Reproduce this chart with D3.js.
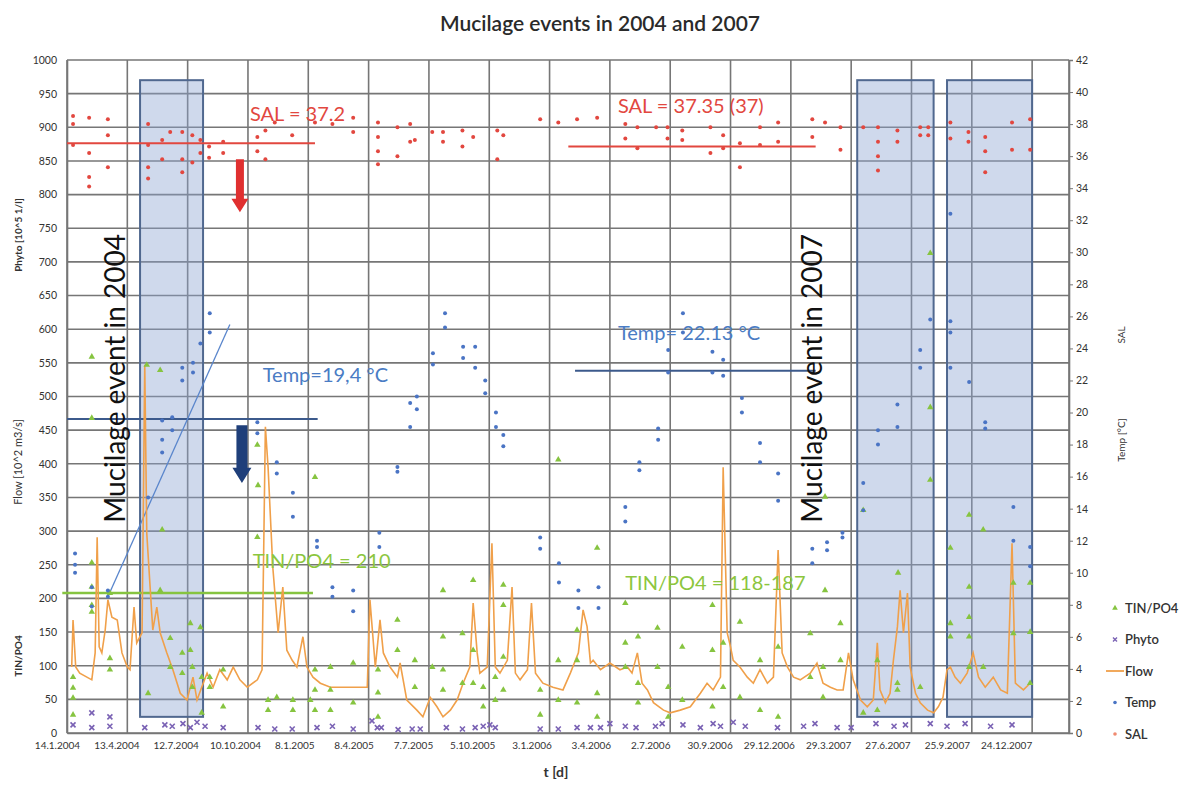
<!DOCTYPE html>
<html>
<head>
<meta charset="utf-8">
<script src="https://cdn.jsdelivr.net/npm/d3@7"></script>
<style>
  body { margin: 0; background: #fff; }
  text { font-family: Lato, "Open Sans", sans-serif; }
</style>
</head>
<body>
<svg id="chart" width="1195" height="799"></svg>
<script>

// ---- data (t = days since 14.1.2004) ----

var startDate = Date.UTC(2004, 0, 14);
var dayMax = 1495;
var xTickDays = d3.range(0, 1441, 90);
var leftTicks = d3.range(0, 1001, 50);
var rightTicks = d3.range(0, 43, 2);

var seriesNames = ["TIN/PO4", "Phyto", "Flow", "Temp", "SAL"];

// Flow [10^2 m3/s], left axis
var flow = [[7,98],[9,168],[13,98],[19,89],[37,79],[42,119],[45,291],[48,128],[52,119],[57,153],[61,198],[67,172],[75,168],[82,119],[90,98],[94,94],[100,187],[104,134],[112,149],[116,547],[119,297],[124,217],[128,153],[134,187],[139,149],[149,119],[158,94],[169,59],[179,49],[188,83],[194,49],[201,68],[209,89],[218,68],[228,94],[239,79],[248,98],[258,79],[269,68],[284,79],[291,94],[296,455],[300,395],[307,247],[315,149],[322,217],[328,123],[336,108],[343,98],[352,143],[358,98],[367,83],[378,74],[393,68],[412,68],[433,68],[448,68],[452,198],[460,98],[467,168],[472,119],[482,98],[493,83],[497,104],[507,49],[522,34],[531,24],[542,53],[552,39],[561,24],[572,34],[582,49],[591,74],[601,98],[606,193],[612,119],[616,89],[627,98],[634,282],[639,98],[646,89],[657,108],[664,217],[669,89],[676,79],[687,94],[693,193],[699,89],[710,74],[725,68],[740,64],[751,89],[763,119],[770,183],[776,158],[781,104],[785,108],[796,94],[810,104],[825,94],[836,98],[843,89],[851,119],[858,74],[866,64],[875,45],[890,34],[900,30],[915,34],[930,39],[945,59],[955,74],[964,64],[975,83],[979,395],[985,149],[990,128],[994,108],[1004,98],[1015,83],[1024,74],[1034,94],[1045,74],[1054,83],[1061,272],[1067,119],[1075,98],[1084,83],[1094,79],[1109,89],[1119,104],[1128,74],[1139,68],[1149,64],[1158,64],[1166,119],[1173,79],[1184,49],[1194,39],[1203,49],[1209,134],[1213,64],[1221,45],[1228,59],[1233,108],[1239,158],[1243,212],[1248,149],[1254,208],[1258,98],[1266,59],[1273,45],[1284,34],[1293,30],[1300,39],[1307,53],[1313,94],[1318,98],[1325,83],[1333,74],[1343,89],[1352,119],[1360,83],[1370,68],[1382,83],[1393,64],[1403,59],[1410,282],[1415,74],[1427,64],[1437,74]];

// TIN/PO4, left axis
var tinPo4 = [[9,83],[9,67],[9,52],[9,27],[37,559],[37,468],[37,253],[37,217],[37,190],[37,180],[64,208],[64,111],[64,94],[119,547],[121,59],[139,539],[139,212],[142,302],[154,141],[154,98],[172,119],[172,89],[184,163],[184,123],[187,98],[187,68],[199,157],[201,83],[201,30],[213,83],[213,68],[233,94],[233,39],[284,428],[284,291],[285,368],[300,49],[300,34],[313,53],[337,49],[337,34],[363,49],[370,380],[370,94],[370,64],[370,34],[393,98],[393,64],[393,34],[427,104],[427,45],[464,94],[464,60],[464,24],[493,168],[493,123],[519,108],[519,68],[545,98],[561,212],[561,143],[561,94],[561,64],[590,148],[590,74],[606,227],[606,123],[606,74],[621,68],[621,39],[639,83],[639,49],[651,220],[651,190],[651,113],[651,64],[706,64],[706,27],[733,406],[733,108],[733,49],[761,153],[761,108],[761,45],[791,275],[791,59],[791,24],[833,193],[833,134],[833,98],[852,143],[852,74],[852,45],[881,156],[881,98],[897,68],[897,24],[918,128],[918,49],[963,190],[963,123],[963,39],[979,134],[979,68],[1004,165],[1004,53],[1034,108],[1034,34],[1061,128],[1061,24],[1109,148],[1109,83],[1128,98],[1128,53],[1131,351],[1131,212],[1154,163],[1154,108],[1188,331],[1188,30],[1209,108],[1209,34],[1239,74],[1239,64],[1240,238],[1273,68],[1288,713],[1288,484],[1288,376],[1318,275],[1318,163],[1318,143],[1346,324],[1346,217],[1346,172],[1346,143],[1346,98],[1367,302],[1367,98],[1412,223],[1412,148],[1437,223],[1437,150],[1437,74]];

// Phyto [10^5 1/l], left axis
var phyto = [[9,12],[37,30],[37,8],[64,24],[64,10],[116,8],[146,12],[157,10],[173,14],[184,8],[194,16],[206,10],[233,8],[285,8],[310,6],[336,6],[373,8],[396,10],[427,6],[455,18],[463,8],[469,8],[494,5],[515,6],[527,6],[566,8],[590,6],[609,8],[621,10],[631,12],[639,8],[706,6],[733,6],[761,8],[781,8],[796,8],[810,14],[833,10],[849,8],[878,10],[888,14],[919,12],[945,8],[964,14],[975,10],[994,16],[1012,10],[1060,8],[1099,10],[1116,14],[1149,8],[1170,8],[1207,14],[1234,10],[1251,12],[1288,14],[1313,10],[1340,14],[1378,10],[1410,12]];

// Temp [°C], right axis
var temp = [[12,11.2],[12,10.5],[12,10.0],[37,9.1],[37,7.9],[61,8.9],[61,8.5],[121,14.7],[142,19.5],[142,18.3],[142,17.5],[157,19.7],[157,18.9],[172,22.8],[172,22.0],[188,23.1],[188,22.5],[199,24.3],[213,26.2],[213,25.0],[284,19.4],[284,18.7],[313,16.9],[313,16.2],[337,15.0],[337,13.5],[373,12.0],[373,11.6],[396,9.1],[396,8.5],[427,8.9],[427,7.6],[466,12.5],[466,11.6],[493,16.6],[493,16.3],[512,20.6],[512,19.1],[522,21.0],[522,20.2],[546,23.7],[546,23.0],[564,26.2],[564,25.3],[591,24.1],[591,23.4],[609,24.1],[609,22.8],[624,22.0],[624,21.2],[640,20.0],[640,19.1],[651,18.6],[651,17.9],[706,12.2],[706,11.5],[734,10.6],[734,9.4],[763,8.9],[763,7.8],[793,9.1],[793,7.8],[833,14.1],[833,13.2],[854,16.9],[854,16.4],[882,19.0],[882,18.3],[897,23.9],[897,22.5],[919,26.2],[919,25.0],[963,23.8],[963,22.5],[979,23.3],[979,22.3],[1007,20.9],[1007,20.0],[1034,18.1],[1034,16.9],[1061,16.2],[1061,14.5],[1112,11.5],[1112,10.6],[1134,11.9],[1134,11.4],[1157,12.5],[1157,12.2],[1188,15.6],[1188,13.9],[1210,18.9],[1210,18.0],[1239,20.5],[1239,19.1],[1273,23.9],[1273,22.8],[1288,25.8],[1318,32.4],[1318,25.7],[1318,25.0],[1318,22.8],[1346,21.9],[1370,19.4],[1370,19.0],[1412,14.1],[1412,12.0],[1437,11.6],[1437,10.4]];

// SAL, right axis
var sal = [[9,38.5],[9,38.0],[9,36.7],[33,38.4],[33,36.2],[33,34.7],[33,34.1],[61,38.3],[61,37.3],[61,35.3],[121,38.0],[121,36.7],[121,35.3],[121,34.6],[142,37.0],[142,35.8],[154,37.5],[172,37.5],[172,35.8],[172,35.0],[187,37.3],[187,35.6],[199,37.0],[199,36.2],[212,36.6],[212,35.9],[233,36.9],[233,36.2],[284,37.2],[284,36.3],[296,37.6],[296,35.8],[310,38.1],[336,37.3],[370,38.1],[396,38.0],[427,38.4],[427,37.5],[464,38.1],[464,37.2],[464,36.3],[464,35.5],[493,37.8],[493,36.0],[512,38.0],[512,36.9],[519,37.0],[545,37.5],[561,37.5],[561,36.9],[590,37.6],[590,36.6],[606,37.2],[642,37.6],[642,35.8],[651,37.3],[706,38.3],[733,38.1],[761,38.3],[791,38.4],[833,38.0],[833,37.1],[851,37.8],[851,36.5],[879,37.8],[896,37.8],[896,37.1],[918,37.6],[918,37.0],[960,37.8],[960,36.2],[979,37.3],[979,36.5],[1004,36.8],[1004,35.3],[1034,37.8],[1034,36.7],[1061,38.1],[1061,36.9],[1112,38.3],[1112,37.2],[1131,38.1],[1154,37.8],[1154,36.4],[1188,37.8],[1210,37.8],[1210,36.9],[1210,36.0],[1210,35.1],[1239,37.6],[1239,36.9],[1273,37.8],[1273,37.3],[1285,37.8],[1285,37.3],[1318,38.1],[1318,37.1],[1345,37.5],[1345,36.9],[1370,37.2],[1370,36.3],[1370,35.0],[1410,38.1],[1410,36.4],[1437,38.3],[1437,36.4]];

// mucilage periods [from day, to day], and box height on left axis
var eventPeriods = [[109, 203], [1179, 1293], [1313, 1440]];
var eventBox = [24, 970];

// reference levels drawn on the chart
var salRefs = [{from: 0, to: 370, level: 36.8, label: "SAL = 37.2", at: 273, labelLevel: 38.2},
               {from: 748, to: 1117, level: 36.6, label: "SAL = 37.35 (37)", at: 822, labelLevel: 38.7}];
var tempRefs = [{from: 0, to: 374, level: 19.6, label: "Temp=19,4 °C", at: 292, labelLevel: 21.9},
                {from: 758, to: 1117, level: 22.6, label: "Temp= 22.13 °C", at: 822, labelLevel: 24.5}];
var tinRefs = [{from: -7, to: 367, level: 208, label: "TIN/PO4 = 210", at: 277, labelLevel: 245},
               {from: null, to: null, level: null, label: "TIN/PO4 = 118-187", at: 833, labelLevel: 212}];

var eventLabels = [{day: 87, label: "Mucilage event in 2004"}, {day: 1127, label: "Mucilage event in 2007"}];

//SVG setup

var svg = d3.select("svg#chart"),
    margin = {left: 67, right: 126, top: 60, bottom: 66},
    width = +svg.attr("width") - margin.left - margin.right,
    height = +svg.attr("height") - margin.top - margin.bottom;

var x = d3.scaleLinear().domain([0, dayMax]).range([margin.left, margin.left + width]);
var yL = d3.scaleLinear().domain([0, 1000]).range([margin.top + height, margin.top]);
var yR = d3.scaleLinear().domain([0, 42]).range([margin.top + height, margin.top]);

var fmtDate = d3.utcFormat("%-d.%-m.%Y");
function dayLabel(d) { return fmtDate(new Date(startDate + d * 864e5)); }

var colors = {tin: "#86c440", phyto: "#7a62b4", flow: "#f0a04a", temp: "#4a74c4", sal: "#e2473f", grid: "#767676"};

// Title
svg.append("text")
    .attr("x", 600)
    .attr("y", 31)
    .attr("text-anchor", "middle")
    .attr("font-size", "21px")
    .attr("font-weight", 600)
    .attr("fill", "#2a2a2a")
    .text("Mucilage events in 2004 and 2007");

// Grid
var grid = svg.append("g").attr("class", "grid");

grid.selectAll("line.h")
    .data(leftTicks)
  .enter().append("line")
    .attr("x1", margin.left)
    .attr("x2", margin.left + width)
    .attr("y1", yL)
    .attr("y2", yL)
    .attr("stroke", colors.grid)
    .attr("stroke-width", 1.6);

grid.selectAll("line.v")
    .data(xTickDays.concat([dayMax]))
  .enter().append("line")
    .attr("x1", x)
    .attr("x2", x)
    .attr("y1", margin.top)
    .attr("y2", margin.top + height)
    .attr("stroke", colors.grid)
    .attr("stroke-width", 1.6);

// Mucilage boxes
svg.selectAll("rect.event")
    .data(eventPeriods)
  .enter().append("rect")
    .attr("class", "event")
    .attr("x", function(d) { return x(d[0]); })
    .attr("y", yL(eventBox[1]))
    .attr("width", function(d) { return x(d[1]) - x(d[0]); })
    .attr("height", yL(eventBox[0]) - yL(eventBox[1]))
    .attr("fill", "rgba(140,165,210,0.42)")
    .attr("stroke", "#50688f")
    .attr("stroke-width", 2);

// Axes
var axisL = svg.append("g")
    .attr("transform", "translate(" + margin.left + ",0)")
    .call(d3.axisLeft(yL).tickValues(leftTicks).tickFormat(d3.format("d")).tickSize(0).tickPadding(10));

var axisR = svg.append("g")
    .attr("transform", "translate(" + (margin.left + width) + ",0)")
    .call(d3.axisRight(yR).tickValues(rightTicks).tickSize(4).tickPadding(3));

var axisB = svg.append("g")
    .attr("transform", "translate(0," + (margin.top + height) + ")")
    .call(d3.axisBottom(x).tickValues(xTickDays).tickFormat(dayLabel).tickSize(0).tickPadding(9));

[axisL, axisR, axisB].forEach(function(a) {
    a.select(".domain").attr("stroke", colors.grid).attr("stroke-width", 1.6);
    a.selectAll(".tick line").attr("stroke", colors.grid);
    a.selectAll("text")
        .attr("font-family", "Lato, sans-serif")
        .attr("font-size", "10.5px")
        .attr("fill", "#333");
});
// date labels sit a little left of their grid lines
axisB.selectAll("text")
    .attr("dx", function(d) { return (-10 - 16 * d / 1440) + "px"; })
    .attr("font-size", "10px");

// Reference lines
function refLines(refs, scale, color, w) {
    svg.append("g").selectAll("line")
        .data(refs.filter(function(d) { return d.level !== null; }))
      .enter().append("line")
        .attr("x1", function(d) { return x(d.from); })
        .attr("x2", function(d) { return x(d.to); })
        .attr("y1", function(d) { return scale(d.level); })
        .attr("y2", function(d) { return scale(d.level); })
        .attr("stroke", color)
        .attr("stroke-width", w);
}
refLines(salRefs, yR, "#e2473f", 2);
refLines(tempRefs, yR, "#3c5a8c", 2);
refLines(tinRefs, yL, "#86c440", 2.5);

// trend line through the 2004 temp rise
svg.append("line")
    .attr("x1", x(61)).attr("y1", yR(8.5))
    .attr("x2", x(243)).attr("y2", yR(25.5))
    .attr("stroke", "#5a86cc")
    .attr("stroke-width", 1.3);

// Arrows
function arrow(day, from, to, color, shaft, head) {
    var cx = x(day), y0 = yR(from), y1 = yR(to), hy = y1 - head * 0.8;
    svg.append("path")
        .attr("d", "M" + (cx - shaft / 2) + "," + y0 + "L" + (cx + shaft / 2) + "," + y0 +
             "L" + (cx + shaft / 2) + "," + hy + "L" + (cx + head / 2) + "," + hy +
             "L" + cx + "," + y1 + "L" + (cx - head / 2) + "," + hy +
             "L" + (cx - shaft / 2) + "," + hy + "Z")
        .attr("fill", color);
}
arrow(258, 35.8, 32.5, "#e03030", 8, 17);
arrow(261, 19.2, 15.6, "#1f3f7a", 11, 19);

// Flow line
svg.append("path")
    .datum(flow)
    .attr("fill", "none")
    .attr("stroke", colors.flow)
    .attr("stroke-width", 1.6)
    .attr("d", d3.line().x(function(d) { return x(d[0]); }).y(function(d) { return yL(d[1]); }));

// TIN/PO4 triangles
svg.append("g").selectAll("path")
    .data(tinPo4)
  .enter().append("path")
    .attr("transform", function(d) { return "translate(" + x(d[0]) + "," + yL(d[1]) + ")"; })
    .attr("d", d3.symbol().type(d3.symbolTriangle).size(18))
    .attr("fill", colors.tin);

// Phyto crosses
svg.append("g").selectAll("path")
    .data(phyto)
  .enter().append("path")
    .attr("transform", function(d) { return "translate(" + x(d[0]) + "," + yL(d[1]) + ")"; })
    .attr("d", "M-2.5,-2.5L2.5,2.5M-2.5,2.5L2.5,-2.5")
    .attr("stroke", colors.phyto)
    .attr("stroke-width", 1.6);

// Temp points
svg.append("g").selectAll("circle")
    .data(temp)
  .enter().append("circle")
    .attr("cx", function(d) { return x(d[0]); })
    .attr("cy", function(d) { return yR(d[1]); })
    .attr("r", 2)
    .attr("fill", colors.temp);

// SAL points
svg.append("g").selectAll("circle")
    .data(sal)
  .enter().append("circle")
    .attr("cx", function(d) { return x(d[0]); })
    .attr("cy", function(d) { return yR(d[1]); })
    .attr("r", 2)
    .attr("fill", colors.sal);

// Reference labels
function refLabels(refs, scale, color) {
    svg.append("g").selectAll("text")
        .data(refs)
      .enter().append("text")
        .attr("x", function(d) { return x(d.at); })
        .attr("y", function(d) { return scale(d.labelLevel); })
        .attr("font-size", "20px")
        .attr("fill", color)
        .text(function(d) { return d.label; });
}
refLabels(salRefs, yR, "#e2473f");
refLabels(tempRefs, yR, "#4a7cc4");
refLabels(tinRefs, yL, "#8cc63e");

// Event labels
svg.append("g").selectAll("text")
    .data(eventLabels)
  .enter().append("text")
    .attr("transform", function(d) { return "translate(" + x(d.day) + "," + yL(527) + ") rotate(-90)"; })
    .attr("text-anchor", "middle")
    .attr("font-size", "28px")
    .attr("fill", "#111")
    .text(function(d) { return d.label; });

// Axis titles
function vtitle(px, py, label, size, weight) {
    svg.append("text")
        .attr("transform", "translate(" + px + "," + py + ") rotate(-90)")
        .attr("text-anchor", "middle")
        .attr("font-size", size)
        .attr("font-weight", weight)
        .attr("fill", "#333")
        .text(label);
}
vtitle(22, 235, "Phyto  [10^5 1/l]", "10px", 700);
vtitle(22, 462, "Flow [10^2 m3/s]", "11px", 400);
vtitle(22, 656, "TIN/PO4", "10px", 700);
vtitle(1125, 335, "SAL", "10px", 400);
vtitle(1125, 440, "Temp [°C]", "10px", 400);

svg.append("text")
    .attr("x", 556)
    .attr("y", 777)
    .attr("text-anchor", "middle")
    .attr("font-size", "14px")
    .attr("font-weight", 700)
    .attr("fill", "#333")
    .text("t [d]");

// Legend
var legend = svg.append("g").attr("transform", "translate(1115,608)");
var legendItems = legend.selectAll("g")
    .data(seriesNames)
  .enter().append("g")
    .attr("transform", function(d, i) { return "translate(0," + (i * 31.5) + ")"; });

legendItems.each(function(d) {
    var g = d3.select(this);
    if (d === "TIN/PO4") g.append("path").attr("d", d3.symbol().type(d3.symbolTriangle).size(14)).attr("fill", colors.tin);
    if (d === "Phyto") g.append("path").attr("d", "M-2,-2L2,2M-2,2L2,-2").attr("stroke", colors.phyto).attr("stroke-width", 1.4);
    if (d === "Flow") g.append("line").attr("x1", -9).attr("x2", 9).attr("stroke", colors.flow).attr("stroke-width", 1.8);
    if (d === "Temp") g.append("circle").attr("r", 1.8).attr("fill", colors.temp);
    if (d === "SAL") g.append("circle").attr("r", 1.8).attr("fill", "#f08a70");
    g.append("text")
        .attr("x", 10)
        .attr("dy", "0.35em")
        .attr("font-size", "13px")
        .attr("font-weight", 600)
        .attr("fill", "#333")
        .text(d);
});

</script>
</body>
</html>
